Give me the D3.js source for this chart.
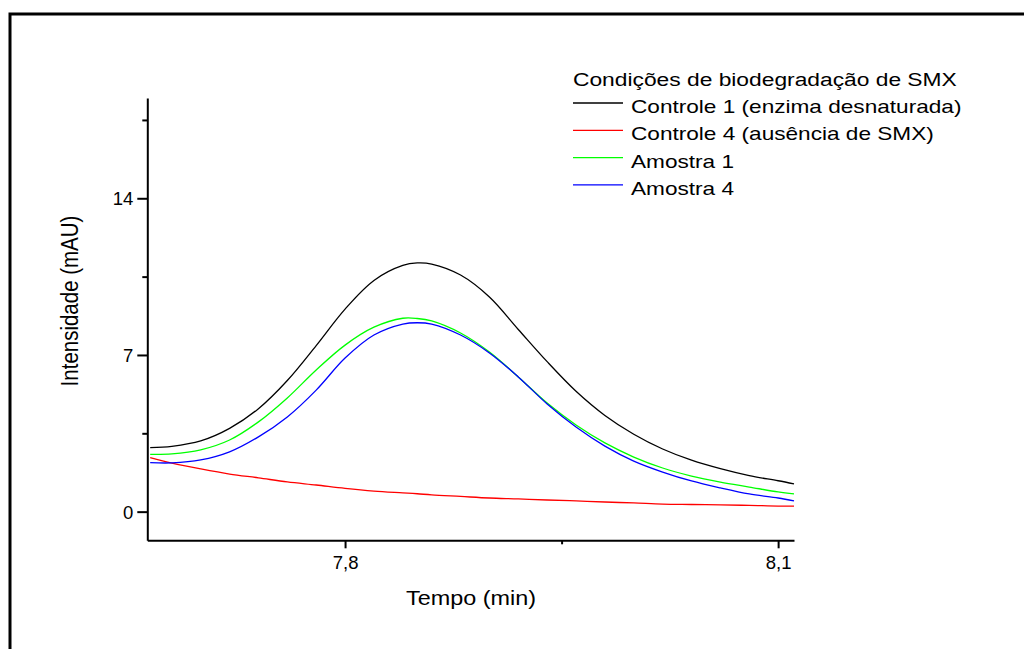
<!DOCTYPE html>
<html>
<head>
<meta charset="utf-8">
<script src="https://cdn.jsdelivr.net/npm/d3@7"></script>
<style>
  html, body { margin: 0; padding: 0; background: #fff; }
  svg { display: block; }
  text { font-family: "Liberation Sans", Arial, sans-serif; fill: #000; }
</style>
</head>
<body>
<svg id="chart" width="1024" height="649"></svg>
<script>
// ---- data ----
const time = [7.665, 7.68, 7.70, 7.72, 7.74, 7.76, 7.78, 7.80, 7.82, 7.84, 7.85, 7.86, 7.88, 7.90, 7.92, 7.94, 7.96, 7.98, 8.00, 8.02, 8.04, 8.06, 8.08, 8.10, 8.111];
const controle1 = [2.86, 2.92, 3.16, 3.72, 4.60, 5.86, 7.42, 9.05, 10.33, 11.00, 11.11, 11.06, 10.57, 9.59, 8.14, 6.70, 5.38, 4.30, 3.46, 2.80, 2.30, 1.92, 1.61, 1.38, 1.24];
const controle4 = [2.41, 2.17, 1.91, 1.68, 1.51, 1.33, 1.19, 1.04, 0.92, 0.84, 0.80, 0.75, 0.68, 0.61, 0.57, 0.52, 0.48, 0.43, 0.39, 0.34, 0.32, 0.30, 0.28, 0.25, 0.25];
const amostra1 = [2.56, 2.58, 2.76, 3.20, 4.01, 5.08, 6.33, 7.44, 8.24, 8.64, 8.63, 8.52, 7.98, 7.13, 6.02, 4.85, 3.87, 3.07, 2.44, 1.95, 1.59, 1.32, 1.10, 0.88, 0.79];
const amostra4 = [2.19, 2.18, 2.31, 2.67, 3.34, 4.23, 5.43, 6.86, 7.89, 8.38, 8.44, 8.38, 7.89, 7.09, 6.02, 4.81, 3.78, 2.93, 2.26, 1.77, 1.37, 1.06, 0.79, 0.61, 0.48];

const seriesNames = ["Controle 1 (enzima desnaturada)", "Controle 4 (ausência de SMX)", "Amostra 1", "Amostra 4"];
const seriesColors = ["#000000", "#ff0000", "#00ff00", "#0000ff"];
const seriesValues = [controle1, controle4, amostra1, amostra4];

const xMajorTicks = [7.8, 8.1];
const xMajorLabels = ["7,8", "8,1"];
const xMinorTicks = [7.95];
const yMajorTicks = [0, 7, 14];
const yMajorLabels = ["0", "7", "14"];
const yMinorTicks = [3.5, 10.5, 17.5];

const legendTitle = "Condições de biodegradação de SMX";
const xTitle = "Tempo (min)";
const yTitle = "Intensidade (mAU)";

// ---- drawing ----
const svg = d3.select("#chart");

// frame (top and left edges visible)
svg.append("path")
  .attr("d", "M10,649 L10,14 L1024,14")
  .attr("fill", "none").attr("stroke", "#000").attr("stroke-width", 3);

const x = d3.scaleLinear().domain([7.663, 8.111]).range([147.3, 794]);
const y = d3.scaleLinear().domain([-1.28, 18.48]).range([540.3, 98]);

// curves
const line = d3.line()
  .x((d, i) => x(time[i]))
  .y(d => y(d))
  .curve(d3.curveCatmullRom.alpha(0.5));

seriesValues.forEach((vals, k) => {
  svg.append("path")
    .datum(vals)
    .attr("d", line)
    .attr("fill", "none")
    .attr("stroke", seriesColors[k])
    .attr("stroke-width", 1.3);
});

// axes
const xAxisG = svg.append("g").attr("transform", `translate(0,${y.range()[0]})`);
xAxisG.call(d3.axisBottom(x).tickValues(xMajorTicks).tickSize(8).tickSizeOuter(0)
  .tickFormat((d, i) => xMajorLabels[i]));
const xMinorG = svg.append("g").attr("transform", `translate(0,${y.range()[0]})`);
xMinorG.call(d3.axisBottom(x).tickValues(xMinorTicks).tickSize(4).tickSizeOuter(0).tickFormat(""));

const yAxisG = svg.append("g").attr("transform", `translate(${x.range()[0]},0)`);
yAxisG.call(d3.axisLeft(y).tickValues(yMajorTicks).tickSize(10).tickSizeOuter(0)
  .tickFormat((d, i) => yMajorLabels[i]));
const yMinorG = svg.append("g").attr("transform", `translate(${x.range()[0]},0)`);
yMinorG.call(d3.axisLeft(y).tickValues(yMinorTicks).tickSize(5).tickSizeOuter(0).tickFormat(""));

[xAxisG, xMinorG, yAxisG, yMinorG].forEach(g => {
  g.select(".domain").attr("stroke", "#000").attr("stroke-width", 2);
  g.selectAll(".tick line").attr("stroke", "#000").attr("stroke-width", 2);
  g.selectAll(".tick text")
    .style("font-family", '"Liberation Sans", Arial, sans-serif')
    .style("font-size", "18.5px").attr("fill", "#000");
});
xMinorG.select(".domain").remove();
yMinorG.select(".domain").remove();
xAxisG.selectAll(".tick text").attr("dy", null).attr("y", 29);
yAxisG.selectAll(".tick text").attr("x", -14).attr("dy", "0.35em");

// axis titles
svg.append("text")
  .attr("transform", "translate(471,605) scale(1.2,1)")
  .attr("text-anchor", "middle")
  .style("font-size", "19.5px")
  .text(xTitle);

svg.append("text")
  .attr("transform", "translate(78,301) scale(1.15,1) rotate(-90)")
  .attr("text-anchor", "middle")
  .style("font-size", "20.5px")
  .text(yTitle);

// legend
const legendX = 573, legendTitleY = 86, rowY0 = 103, rowStep = 27.3;
svg.append("text")
  .attr("transform", `translate(${legendX},${legendTitleY}) scale(1.2,1)`)
  .style("font-size", "19px")
  .text(legendTitle);

seriesNames.forEach((name, k) => {
  const cy = rowY0 + k * rowStep;
  svg.append("line")
    .attr("x1", legendX).attr("x2", legendX + 50)
    .attr("y1", cy).attr("y2", cy)
    .attr("stroke", seriesColors[k]).attr("stroke-width", 1.3);
  svg.append("text")
    .attr("transform", `translate(631,${cy + 10}) scale(1.19,1)`)
    .style("font-size", "19px")
    .text(name);
});
</script>
</body>
</html>
